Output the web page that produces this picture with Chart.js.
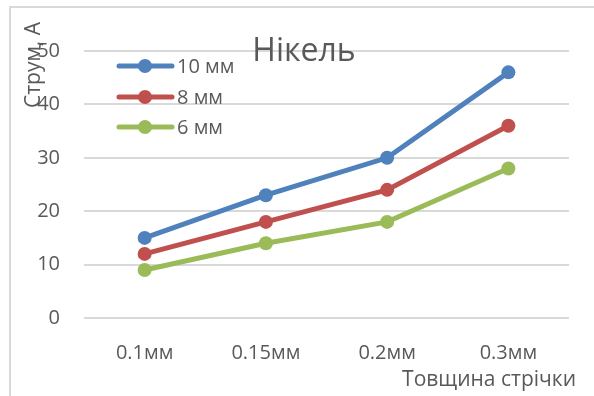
<!DOCTYPE html>
<html>
<head>
<meta charset="utf-8">
<script src="https://cdn.jsdelivr.net/npm/chart.js@4.4.0/dist/chart.umd.min.js"></script>
<style>
  body { margin: 0; background: #fff; }
  #wrap { position: relative; width: 594px; height: 396px; }
  #frame { position: absolute; left: 9px; top: 6px; width: 600px; height: 400px;
           border-left: 2px solid #d9d9d9; border-top: 2px solid #d9d9d9; }
  canvas { position: absolute; left: 0; top: 0; }
</style>
</head>
<body>
<div id="wrap">
  <div id="frame"></div>
  <canvas id="chart" width="594" height="396"></canvas>
</div>
<script>
// thickness of the strip
var categories = ["0.1мм", "0.15мм", "0.2мм", "0.3мм"];
var seriesNames = ["10 мм", "8 мм", "6 мм"];
var current10 = [15, 23, 30, 46];
var current8 = [12, 18, 24, 36];
var current6 = [9, 14, 18, 28];
var yTicks = [0, 10, 20, 30, 40, 50];

var colors = ["#4F81BD", "#C0504D", "#9BBB59"];
var textColor = "#595959";
var fontFamily = "'Open Sans', sans-serif";

function makeSet(name, values, color) {
	return {
		label: name,
		data: values,
		borderColor: color,
		backgroundColor: color,
		borderWidth: 5,
		pointRadius: 7,
		pointHoverRadius: 7,
		pointBorderWidth: 0,
		tension: 0
	};
}

// titles and legend are drawn over the plot like in the excel chart
var overlay = {
	id: 'overlay',
	afterDraw: function(chart) {
		var ctx = chart.ctx;
		ctx.save();
		ctx.fillStyle = textColor;

		// chart title
		ctx.font = "32px " + fontFamily;
		ctx.textAlign = "center";
		ctx.textBaseline = "middle";
		ctx.fillText("Нікель", 304, 52);

		// x axis title
		ctx.font = "21px " + fontFamily;
		ctx.textAlign = "right";
		ctx.fillText("Товщина стрічки", 576, 380);

		// y axis title
		ctx.save();
		ctx.translate(34, 65);
		ctx.rotate(-Math.PI / 2);
		ctx.textAlign = "center";
		ctx.fillText("Струм, А", 0, 0);
		ctx.restore();

		// legend
		var rows = [66, 97, 127];
		chart.data.datasets.forEach(function(ds, i) {
			var y = rows[i];
			ctx.strokeStyle = ds.borderColor;
			ctx.lineWidth = 5;
			ctx.lineCap = "round";
			ctx.beginPath();
			ctx.moveTo(119, y);
			ctx.lineTo(172, y);
			ctx.stroke();
			ctx.fillStyle = ds.borderColor;
			ctx.beginPath();
			ctx.arc(145, y, 7, 0, Math.PI * 2);
			ctx.fill();
			ctx.fillStyle = textColor;
			ctx.font = "20px " + fontFamily;
			ctx.textAlign = "left";
			ctx.textBaseline = "middle";
			ctx.fillText(ds.label, 177, y + 1);
		});
		ctx.restore();
	}
};

var ctx = document.getElementById("chart").getContext("2d");
var chart = new Chart(ctx, {
	type: 'line',
	data: {
		labels: categories,
		datasets: [
			makeSet(seriesNames[0], current10, colors[0]),
			makeSet(seriesNames[1], current8, colors[1]),
			makeSet(seriesNames[2], current6, colors[2])
		]
	},
	options: {
		responsive: false,
		animation: false,
		layout: { padding: { top: 51, right: 25, left: 0, bottom: 0 } },
		plugins: {
			legend: { display: false },
			title: { display: false },
			tooltip: { enabled: false }
		},
		scales: {
			x: {
				offset: true,
				grid: { display: false },
				border: { display: false },
				ticks: { color: textColor, font: { family: fontFamily, size: 20 }, padding: 15, maxRotation: 0 },
				afterFit: function(scale) { scale.height = 78; }
			},
			y: {
				min: 0,
				max: 50,
				afterBuildTicks: function(scale) {
					scale.ticks = yTicks.map(function(v) { return { value: v }; });
				},
				grid: { color: "#d9d9d9", lineWidth: 2, drawTicks: false },
				border: { display: false },
				ticks: { color: textColor, font: { family: fontFamily, size: 20 }, padding: 24 },
				afterFit: function(scale) { scale.width = 84; }
			}
		}
	},
	plugins: [overlay]
});
</script>
</body>
</html>
